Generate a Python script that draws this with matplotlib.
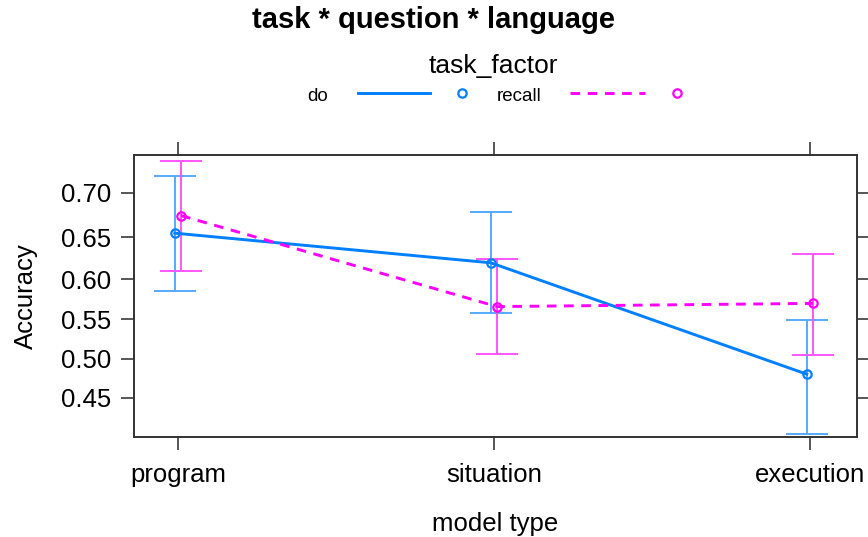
import matplotlib
matplotlib.use("Agg")
import matplotlib.pyplot as plt
from matplotlib.lines import Line2D
import numpy as np

plt.rcParams['font.family'] = ['Liberation Sans', 'DejaVu Sans']

categories = ["program", "situation", "execution"]
do_acc = [0.655, 0.620, 0.480]
do_lower = [0.585, 0.558, 0.405]
do_upper = [0.718, 0.679, 0.549]
recall_acc = [0.675, 0.566, 0.570]
recall_lower = [0.610, 0.506, 0.504]
recall_upper = [0.733, 0.624, 0.630]
yticks = [0.45, 0.50, 0.55, 0.60, 0.65, 0.70]
series_names = ["do", "recall"]

blue = "#0080ff"
magenta = "#ff00ff"
blue_err = "#55aaff"
magenta_err = "#ff55ff"
dash = (0, (3.3, 2.6))
LW = 2.1

W, H = 868, 537
fig = plt.figure(figsize=(W/100, H/100), dpi=100)
ax = fig.add_axes([134/W, 1-437/H, (857-134)/W, (437-155)/H])
ax.set_yscale('logit')

x = np.arange(len(categories))
off = 0.01

def yerr(acc, lo, hi):
    a = np.array(acc)
    return [a - np.array(lo), np.array(hi) - a]

ax.errorbar(x - off, do_acc, yerr=yerr(do_acc, do_lower, do_upper),
            fmt='none', ecolor=blue_err, elinewidth=1.4, capsize=15, capthick=1.4, zorder=2)
ax.errorbar(x + off, recall_acc, yerr=yerr(recall_acc, recall_lower, recall_upper),
            fmt='none', ecolor=magenta_err, elinewidth=1.4, capsize=15, capthick=1.4, zorder=2)
ax.plot(x - off, do_acc, color=blue, lw=LW, zorder=3)
ax.plot(x + off, recall_acc, color=magenta, lw=LW, ls=dash, zorder=3)
ax.plot(x - off, do_acc, 'o', mfc='none', mec=blue, ms=6, mew=1.6, zorder=4)
ax.plot(x + off, recall_acc, 'o', mfc='none', mec=magenta, ms=6, mew=1.6, zorder=4)

ax.set_xlim(-0.139, 2.149)
ax.set_ylim(0.401, 0.739)
ax.set_yticks(yticks)
ax.set_yticklabels([f"{t:.2f}" for t in yticks])
ax.yaxis.set_minor_locator(matplotlib.ticker.NullLocator())
ax.yaxis.set_minor_formatter(matplotlib.ticker.NullFormatter())
ax.set_xticks(x)
ax.set_xticklabels(categories)

for s in ax.spines.values():
    s.set_color("#333333")
    s.set_linewidth(1.4)
ax.tick_params(axis='both', which='major', direction='out', length=9.4, width=1.4,
               color="#555555", labelsize=18.5, top=True, right=True, pad=7)
ax.tick_params(axis='x', pad=9.5)

ax.set_ylabel("Accuracy", fontsize=18.5, labelpad=16.5)
ax.set_xlabel("model type", fontsize=18.5, labelpad=18)

fig.text(0.5, 1-28/H, "task * question * language", ha='center', va='baseline',
         fontsize=21, fontweight='bold')

# legend (lattice style key)
fig.text(493/W, 1-73/H, "task_factor", ha='center', va='baseline', fontsize=19)
tf = fig.transFigure
ly = 1-93/H
fig.text(307/W, 1-101/H, series_names[0], ha='left', va='baseline', fontsize=13.5)
fig.add_artist(Line2D([358/W, 430/W], [ly, ly], color=blue, lw=LW, transform=tf))
fig.add_artist(Line2D([462/W], [ly], ls='none', marker='o', mfc='none', mec=blue, ms=6, mew=1.6, transform=tf))
fig.text(497/W, 1-101/H, series_names[1], ha='left', va='baseline', fontsize=13.5)
fig.add_artist(Line2D([570/W, 645/W], [ly, ly], color=magenta, lw=LW, ls=dash, transform=tf))
fig.add_artist(Line2D([677/W], [ly], ls='none', marker='o', mfc='none', mec=magenta, ms=6, mew=1.6, transform=tf))

fig.savefig("out.png", dpi=100)
